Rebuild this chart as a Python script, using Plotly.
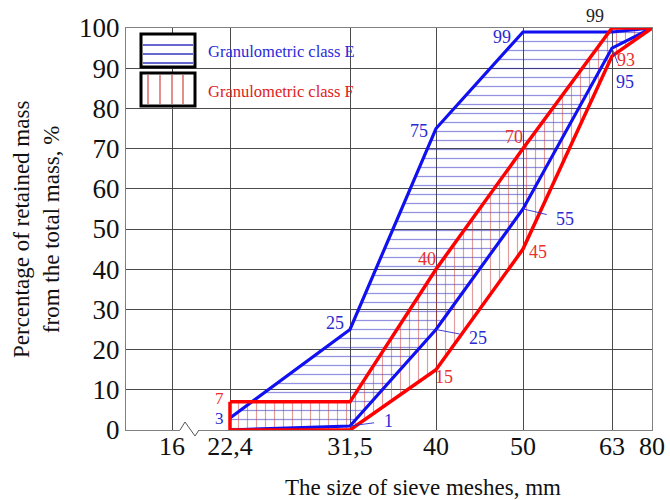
import plotly.graph_objects as go

# ---- data ----
sieve_sizes = [16, 22.4, 31.5, 40, 50, 63, 80]
tick_labels = ["16", "22,4", "31,5", "40", "50", "63", "80"]

e_sizes = [22.4, 31.5, 40, 50, 63, 80]
e_upper = [3, 25, 75, 99, 99, 100]
e_lower = [0, 1, 25, 55, 95, 100]

f_sizes = [22.4, 31.5, 40, 50, 63, 80]
f_upper = [7, 7, 40, 70, 100, 100]
f_lower = [0, 0, 15, 45, 93, 100]

# axis position of each sieve size (non-uniform sieve scale)
axis_pos = [46, 104, 224, 310, 397, 486, 526]
pos = dict(zip(sieve_sizes, axis_pos))
X_MAX = 526

BLUE = "#1010f0"
RED = "#ff0000"
BLUE_T = "#2a2ad0"
RED_T = "#e8302e"
FONT = "Liberation Serif"

def xs(sizes):
    return [pos[s] for s in sizes]

fig = go.Figure()

# filled regions with hatch
fig.add_trace(go.Scatter(
    x=xs(e_sizes) + xs(e_sizes)[::-1], y=e_upper + e_lower[::-1],
    fill="toself", mode="none", fillcolor="rgba(0,0,0,0)",
    fillpattern=dict(shape="-", size=9, solidity=0.14, fgcolor="#2626c4",
                     bgcolor="rgba(0,0,0,0)"),
    hoverinfo="skip", showlegend=False))
fig.add_trace(go.Scatter(
    x=xs(f_sizes) + xs(f_sizes)[::-1], y=f_upper + f_lower[::-1],
    fill="toself", mode="none", fillcolor="rgba(0,0,0,0)",
    fillpattern=dict(shape="|", size=9, solidity=0.13, fgcolor="#c83838",
                     bgcolor="rgba(0,0,0,0)"),
    hoverinfo="skip", showlegend=False))

# outlines
for yy in (e_upper, e_lower):
    fig.add_trace(go.Scatter(x=xs(e_sizes), y=yy, mode="lines",
                             line=dict(color=BLUE, width=3.2),
                             hoverinfo="skip", showlegend=False))
fig.add_trace(go.Scatter(
    x=xs(f_sizes) + xs(f_sizes)[::-1] + [xs(f_sizes)[0]],
    y=f_upper + f_lower[::-1] + [f_upper[0]], mode="lines",
    line=dict(color=RED, width=3.5), hoverinfo="skip", showlegend=False))

# value labels
def lab(size, val, text, color, dx, dy, arrow=False, acolor=None, fs=18):
    d = dict(x=pos[size], y=val, text=text, font=dict(family=FONT, size=fs, color=color))
    if arrow:
        d.update(showarrow=True, arrowhead=0, ax=dx, ay=-dy, arrowwidth=0.9,
                 arrowcolor=acolor or color, standoff=0, startstandoff=8)
    else:
        d.update(showarrow=False, xshift=dx, yshift=dy)
    fig.add_annotation(**d)

lab(50, 99, "99", BLUE_T, -21, -5)
lab(40, 75, "75", BLUE_T, -17, -2)
lab(31.5, 25, "25", BLUE_T, -15, 7)
lab(22.4, 3, "3", BLUE_T, -11, -1, fs=17)
lab(22.4, 7, "7", RED_T, -11, 3, fs=17)
lab(31.5, 1, "1", BLUE_T, 38, 5, arrow=True)
lab(40, 25, "25", BLUE_T, 42, -8, arrow=True)
lab(50, 55, "55", BLUE_T, 42, -10, arrow=True)
lab(63, 95, "95", BLUE_T, 13, -34, arrow=True)
lab(63, 93, "93", RED_T, 14, -4)
lab(63, 100, "99", "#222222", -17, 12, arrow=True)
lab(50, 70, "70", RED_T, -9, 12)
lab(40, 40, "40", RED_T, -9, 10)
lab(50, 45, "45", RED_T, 15, -3)
lab(40, 15, "15", RED_T, 8, -7)

# geometry helpers for paper coordinates (screen pixels of the target picture)
L, R, T, B = 126, 652, 28, 430
def px(xp):
    return (xp - L) / (R - L)
def py(yp):
    return (B - yp) / (B - T)

shapes = []
# legend boxes
shapes.append(dict(type="rect", xref="paper", yref="paper", x0=px(141), x1=px(195),
                   y0=py(67), y1=py(34), fillcolor="white",
                   line=dict(color="black", width=3)))
for yp in (45, 54, 63):
    shapes.append(dict(type="line", xref="paper", yref="paper", x0=px(143), x1=px(193),
                       y0=py(yp), y1=py(yp), line=dict(color="#3535c0", width=1.3)))
shapes.append(dict(type="rect", xref="paper", yref="paper", x0=px(141), x1=px(195),
                   y0=py(106), y1=py(73), fillcolor="white",
                   line=dict(color="black", width=3)))
for xp in (148, 160, 172, 183):
    shapes.append(dict(type="line", xref="paper", yref="paper", x0=px(xp), x1=px(xp),
                       y0=py(75), y1=py(104), line=dict(color="#d03030", width=1.1)))
# axis break zigzag
shapes.append(dict(type="line", xref="paper", yref="paper", x0=px(180), x1=px(199),
                   y0=0, y1=0, line=dict(color="white", width=3)))
shapes.append(dict(type="path", xref="paper", yref="paper",
                   path=f"M {px(180)} {py(430)} L {px(185)} {py(422)} L {px(195)} {py(436)} L {px(199)} {py(430)}",
                   line=dict(color="#555555", width=1)))
fig.update_layout(shapes=shapes)

fig.add_annotation(xref="paper", yref="paper", x=px(206), y=py(52), xanchor="left",
                   yanchor="middle", text="Granulometric class E", showarrow=False,
                   font=dict(family=FONT, size=16.5, color="#2a2ad8"))
fig.add_annotation(xref="paper", yref="paper", x=px(206), y=py(91), xanchor="left",
                   yanchor="middle", text="Granulometric class F", showarrow=False,
                   font=dict(family=FONT, size=16.5, color="#e02020"))

# axis titles
fig.add_annotation(xref="paper", yref="paper", x=px(423), y=py(487),
                   xanchor="center", yanchor="middle",
                   text="The size of sieve meshes, mm", showarrow=False,
                   font=dict(family=FONT, size=23, color="#111111"))
fig.add_annotation(xref="paper", yref="paper", x=px(36), y=py(230),
                   xanchor="center", yanchor="middle",
                   text="Percentage of retained mass<br>from the total mass, %",
                   textangle=-90, showarrow=False,
                   font=dict(family=FONT, size=23, color="#111111"))

fig.update_xaxes(range=[0, X_MAX], tickmode="array", tickvals=axis_pos,
                 ticktext=tick_labels, showgrid=True, gridcolor="#4a4a4a",
                 gridwidth=1, zeroline=False, showline=True, linecolor="#808080",
                 linewidth=1.2, mirror=True, ticks="", automargin=False,
                 ticklabelstandoff=-7,
                 tickfont=dict(family=FONT, size=26, color="#111111"))
fig.update_yaxes(range=[0, 100], tickmode="array", tickvals=list(range(0, 101, 10)),
                 showgrid=True, gridcolor="#4a4a4a", gridwidth=1, zeroline=False,
                 showline=True, linecolor="#808080", linewidth=1.2, mirror=True,
                 ticks="", automargin=False,
                 tickfont=dict(family=FONT, size=27, color="#111111"))

fig.update_layout(width=670, height=500, margin=dict(l=126, r=18, t=28, b=70),
                  plot_bgcolor="white", paper_bgcolor="white")

# remove the default 8px page margin so the figure fills the 670x500 window
fig.write_html("out.html", config={"displayModeBar": False},
               post_script="document.body.style.margin='0px';document.body.style.overflow='hidden';")
